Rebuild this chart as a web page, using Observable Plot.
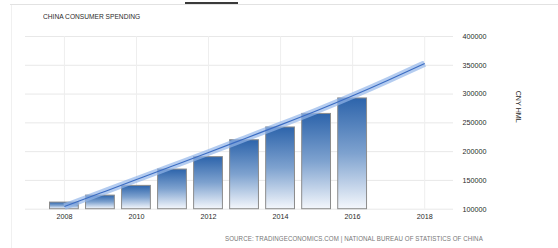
<!DOCTYPE html>
<html><head><meta charset="utf-8">
<script src="https://cdn.jsdelivr.net/npm/d3@7"></script>
<script src="https://cdn.jsdelivr.net/npm/@observablehq/plot@0.6"></script>
<style>
html,body{margin:0;padding:0;background:#fff;}
#wrap{position:relative;width:558px;height:248px;overflow:hidden;font-family:"Liberation Sans",Arial,sans-serif;}
#chart{position:absolute;left:0;top:0;}
.topline{position:absolute;left:10px;top:4px;width:548px;height:1px;background:#e2e2e2;}
.topmark{position:absolute;left:185px;top:2px;width:53px;height:2px;background:#3a3a3a;}
.leftline{position:absolute;left:11px;top:5px;width:1px;height:243px;background:#f0f0f0;}
.title{position:absolute;left:43px;top:12px;font-size:7.8px;color:#2a2a2a;white-space:nowrap;transform-origin:0 0;transform:scaleX(0.85);}
.source{position:absolute;left:225px;top:235px;font-size:7px;color:#777;white-space:nowrap;transform-origin:0 0;transform:scaleX(0.88);letter-spacing:0.1px;}
</style>
</head><body>
<div id="wrap">
  <div class="topline"></div>
  <div class="topmark"></div>
  <div class="leftline"></div>
  <div class="title">CHINA CONSUMER SPENDING</div>
  <div id="chart"></div>
  <div class="source">SOURCE: TRADINGECONOMICS.COM | NATIONAL BUREAU OF STATISTICS OF CHINA</div>
</div>
<script>
const years = [2008, 2009, 2010, 2011, 2012, 2013, 2014, 2015, 2016];
const spending = [111500, 123600, 140500, 168900, 190400, 219800, 242000, 265500, 292400];
const trendYears = [2008, 2009, 2010, 2011, 2012, 2013, 2014, 2015, 2016, 2017, 2018];
const trendValues = [104500, 128000, 151500, 175000, 198500, 222500, 246500, 271000, 297000, 324500, 353000];
const yTicks = [100000, 150000, 200000, 250000, 300000, 350000, 400000];
const xTicks = [2008, 2010, 2012, 2014, 2016, 2018];
const yLabel = "CNY HML";

const bars = years.map((y, i) => ({year: y, value: spending[i]}));
const trend = trendYears.map((y, i) => ({year: y, value: trendValues[i]}));

const plot = Plot.plot({
  width: 558,
  height: 248,
  marginLeft: 25,
  marginRight: 105,
  marginTop: 36,
  marginBottom: 39.3,
  style: {fontFamily: "Liberation Sans, Arial, sans-serif", fontSize: "7px", color: "#333", background: "transparent"},
  x: {domain: [2006.92, 2018.8], axis: null},
  y: {domain: [100000, 400000], axis: null},
  marks: [
    Plot.gridY(yTicks, {stroke: "#e8e8e8", strokeOpacity: 1}),
    Plot.gridX(xTicks, {stroke: "#eeeeee", strokeOpacity: 1}),
    Plot.rectY(bars, {x1: d => d.year - 0.4, x2: d => d.year + 0.4, y1: 100000, y2: "value",
      fill: "url(#barGrad)", stroke: "#8c8c8c", strokeWidth: 1}),
    Plot.line(trend, {x: "year", y: "value", curve: "natural", stroke: "#94b7ea", strokeWidth: 6.5, strokeOpacity: 0.7, strokeLinecap: "butt"}),
    Plot.line(trend, {x: "year", y: "value", curve: "natural", stroke: "#3b6cc2", strokeWidth: 1.1, strokeLinecap: "butt"}),
    Plot.axisY(yTicks, {anchor: "right", tickSize: 0, tickPadding: 9, tickFormat: d => String(d), label: null, fontSize: 7.2, fill: "#2a2a2a"}),
    Plot.axisX(xTicks, {anchor: "bottom", tickSize: 0, tickPadding: 5, tickFormat: d => String(d), label: null, fontSize: 7.2, fill: "#2a2a2a"}),
    Plot.text([yLabel], {frameAnchor: "right", dx: 65, rotate: 90, fontSize: 7.2, fill: "#2a2a2a"})
  ]
});

const ns = "http://www.w3.org/2000/svg";
const defs = document.createElementNS(ns, "defs");
defs.innerHTML = '<linearGradient id="barGrad" x1="0" y1="0" x2="0" y2="1">' +
  '<stop offset="0" stop-color="#2d64ab"/>' +
  '<stop offset="0.5" stop-color="#7ea2cf"/>' +
  '<stop offset="1" stop-color="#f4f7fc"/></linearGradient>';
plot.insertBefore(defs, plot.firstChild);
document.getElementById("chart").appendChild(plot);
</script>
</body></html>
